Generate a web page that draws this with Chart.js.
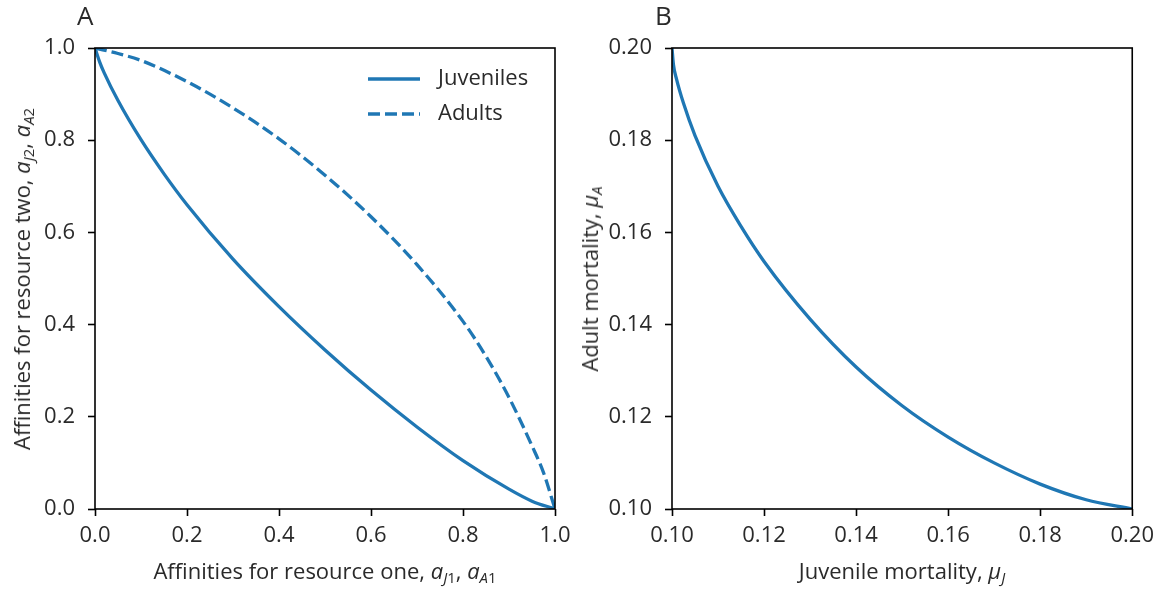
<!DOCTYPE html>
<html>
<head>
<meta charset="utf-8">
<script src="https://cdn.jsdelivr.net/npm/chart.js@4.4.0/dist/chart.umd.min.js"></script>
<style>
  body { margin: 0; background: #fff; }
  #wrap { position: relative; width: 1161px; height: 592px; font-family: 'Open Sans', sans-serif; font-weight: 400; color: #2a2a2a; }
  .panel { position: absolute; top: 0; }
  .txt { position: absolute; white-space: nowrap; font-size: 22px; line-height: 1; }
  .rot { transform: translate(-50%, -50%) rotate(-90deg); }
  .hor { transform: translate(-50%, 0); }
  .txt i { font-style: italic; }
  .txt sub { font-size: 0.68em; vertical-align: baseline; position: relative; top: 0.28em; }
  .tag { font-size: 26px; }
</style>
</head>
<body>
<div id="wrap">
  <div class="panel" style="left:0;width:580px;height:592px"><canvas id="chartA" width="580" height="592"></canvas></div>
  <div class="panel" style="left:580px;width:581px;height:592px"><canvas id="chartB" width="581" height="592"></canvas></div>

  <div class="txt tag" style="left:77px;top:2px">A</div>
  <div class="txt tag" style="left:655px;top:2px">B</div>

  <div class="txt hor" style="left:325px;top:559px">Affinities for resource one, <i>a</i><sub><i>J</i>1</sub>, <i>a</i><sub><i>A</i>1</sub></div>
  <div class="txt rot" style="left:21px;top:279px">Affinities for resource two, <i>a</i><sub><i>J</i>2</sub>, <i>a</i><sub><i>A</i>2</sub></div>

  <div class="txt hor" style="left:902px;top:559px">Juvenile mortality, <i>μ</i><sub><i>J</i></sub></div>
  <div class="txt rot" style="left:589px;top:279px">Adult mortality, <i>μ</i><sub><i>A</i></sub></div>
</div>

<script>
// Painel A: afinidades
const affinX_juv = [0, 0.01, 0.02, 0.05, 0.1, 0.15, 0.2, 0.3, 0.4, 0.5, 0.6, 0.7, 0.8, 0.9, 0.95, 1];
const affinY_juv = [1, 0.970, 0.946, 0.886, 0.801, 0.727, 0.660, 0.542, 0.439, 0.345, 0.258, 0.178, 0.105, 0.043, 0.017, 0];

const affinX_adult = [0, 0.05, 0.1, 0.2, 0.3, 0.4, 0.5, 0.6, 0.7, 0.8, 0.85, 0.9, 0.95, 0.975, 1];
const affinY_adult = [1, 0.988, 0.973, 0.927, 0.870, 0.803, 0.724, 0.634, 0.530, 0.407, 0.331, 0.242, 0.137, 0.079, 0];

// Painel B: mortalidade
const juvMortality = [0.1, 0.1003, 0.101, 0.1025, 0.105, 0.11, 0.115, 0.12, 0.13, 0.14, 0.15, 0.16, 0.17, 0.18, 0.19, 0.2];
const adultMortality = [0.2, 0.1965, 0.1932, 0.188, 0.181, 0.170, 0.1613, 0.1537, 0.1412, 0.1308, 0.1224, 0.1156, 0.110, 0.1054, 0.102, 0.1];

const seriesLabels = ['Juveniles', 'Adults'];

const COR = '#1f77b4';
const TEXTO = '#2a2a2a';
const FONTE = "'Open Sans', sans-serif";

function pontos(xs, ys) {
    return xs.map((x, i) => ({ x: x, y: ys[i] }));
}

// desenha a moldura completa (os quatro lados) do eixo
const molduraPlugin = {
    id: 'moldura',
    afterDatasetsDraw(chart) {
        const a = chart.chartArea;
        const ctx = chart.ctx;
        ctx.save();
        ctx.strokeStyle = '#000';
        ctx.lineWidth = 1.6;
        ctx.strokeRect(a.left, a.top, a.right - a.left, a.bottom - a.top);
        ctx.restore();
    }
};

// legenda desenhada dentro da área do gráfico A
const legendaPlugin = {
    id: 'legendaInterna',
    afterDatasetsDraw(chart, args, opts) {
        if (!opts.show) return;
        const a = chart.chartArea;
        const ctx = chart.ctx;
        ctx.save();
        chart.data.datasets.forEach((ds, i) => {
            const y = a.top + 31 + i * 35;
            const x0 = a.right - 187;
            ctx.strokeStyle = ds.borderColor;
            ctx.lineWidth = ds.borderWidth;
            ctx.setLineDash(ds.borderDash || []);
            ctx.beginPath();
            ctx.moveTo(x0, y);
            ctx.lineTo(x0 + 52, y);
            ctx.stroke();
            ctx.setLineDash([]);
            ctx.fillStyle = TEXTO;
            ctx.font = '400 22px ' + FONTE;
            ctx.textBaseline = 'middle';
            ctx.fillText(ds.label, x0 + 70, y);
        });
        ctx.restore();
    }
};

function eixo(min, max, passo, casas, tipo, tamanho) {
    return {
        type: 'linear',
        min: min,
        max: max,
        border: { display: false },
        grid: {
            drawOnChartArea: false,
            drawTicks: true,
            tickLength: 7,
            tickWidth: 1.6,
            tickColor: '#000'
        },
        ticks: {
            stepSize: passo,
            color: TEXTO,
            padding: tipo === 'x' ? 7 : 13,
            maxRotation: 0,
            font: { family: FONTE, size: 22, weight: '400' },
            callback: (v) => Number(v).toFixed(casas)
        },
        afterFit: (scale) => {
            if (tipo === 'x') scale.height = tamanho;
            else scale.width = tamanho;
        }
    };
}

function criarGrafico(id, datasets, escalaX, escalaY, padRight, comLegenda) {
    return new Chart(document.getElementById(id), {
        type: 'scatter',
        data: { datasets: datasets },
        options: {
            responsive: false,
            animation: false,
            layout: { padding: { top: 48, right: padRight, left: 0, bottom: 0 } },
            scales: { x: escalaX, y: escalaY },
            plugins: {
                legend: { display: false },
                tooltip: { enabled: false },
                legendaInterna: { show: comLegenda }
            }
        },
        plugins: [molduraPlugin, legendaPlugin]
    });
}

const linhaBase = {
    showLine: true,
    borderColor: COR,
    backgroundColor: COR,
    borderWidth: 3.3,
    pointRadius: 0,
    cubicInterpolationMode: 'monotone',
    fill: false
};

criarGrafico('chartA', [
    Object.assign({}, linhaBase, { label: seriesLabels[0], data: pontos(affinX_juv, affinY_juv) }),
    Object.assign({}, linhaBase, { label: seriesLabels[1], data: pontos(affinX_adult, affinY_adult), borderDash: [12, 5] })
], eixo(0, 1, 0.2, 1, 'x', 83), eixo(0, 1, 0.2, 1, 'y', 95), 25, true);

criarGrafico('chartB', [
    Object.assign({}, linhaBase, { label: seriesLabels[0], data: pontos(juvMortality, adultMortality) })
], eixo(0.1, 0.2, 0.02, 2, 'x', 83), eixo(0.1, 0.2, 0.02, 2, 'y', 92), 28, false);
</script>
</body>
</html>
